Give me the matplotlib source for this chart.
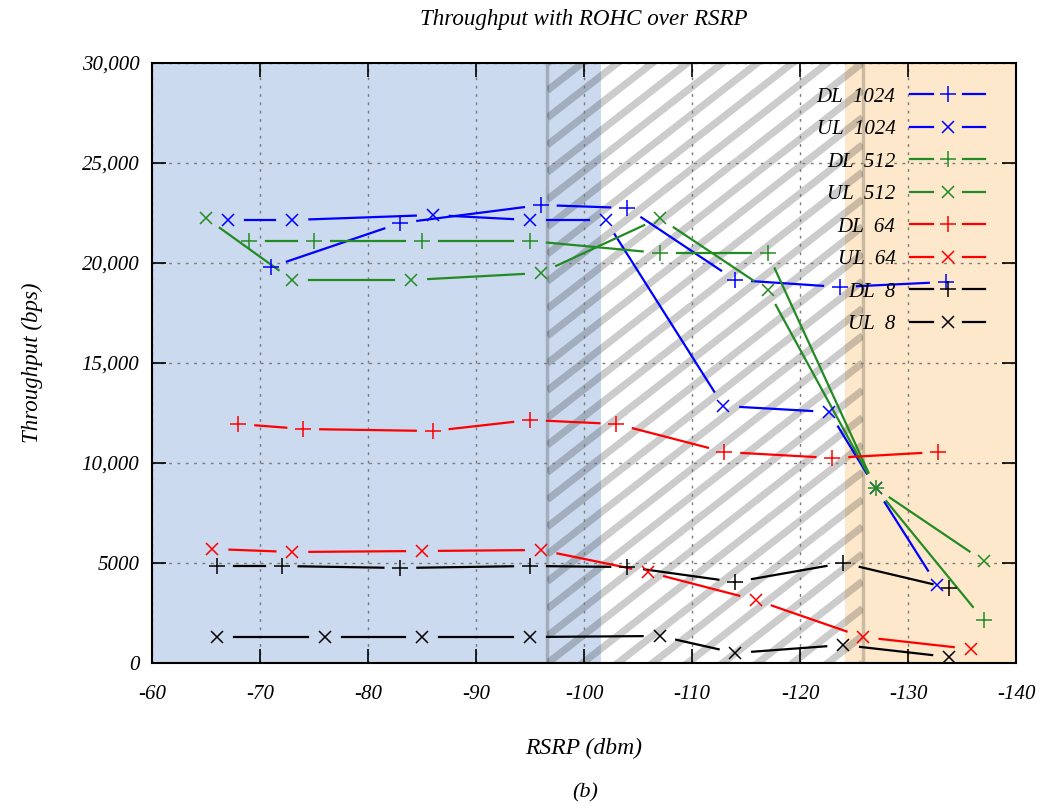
import numpy as np
import matplotlib
matplotlib.use("Agg")
import matplotlib.pyplot as plt
from matplotlib.lines import Line2D
from matplotlib.patches import Rectangle
from matplotlib.legend_handler import HandlerLine2D

# ---- data (RSRP in dBm, throughput in bps) ----
dl1024_x = [-71, -83, -96, -104, -114, -123.7, -133.5]
dl1024_y = [19800, 22000, 22900, 22750, 19150, 18800, 19050]

ul1024_x = [-67, -73, -86, -95, -102, -112.9, -122.7, -127, -132.7]
ul1024_y = [22150, 22150, 22400, 22150, 22150, 12850, 12550, 8750, 3900]

dl512_x = [-69, -75, -85, -95, -107, -117, -127, -137]
dl512_y = [21100, 21100, 21100, 21100, 20500, 20500, 8750, 2150]

ul512_x = [-65, -73, -84, -96, -107, -117, -127, -137]
ul512_y = [22250, 19150, 19150, 19500, 22250, 18650, 8750, 5100]

dl64_x = [-68, -74, -86, -95, -103, -113, -123, -132.8]
dl64_y = [11950, 11700, 11600, 12150, 11950, 10550, 10250, 10550]

ul64_x = [-65.6, -73, -85, -96, -105.9, -115.9, -125.8, -135.8]
ul64_y = [5700, 5550, 5600, 5650, 4550, 3150, 1300, 700]

dl8_x = [-66, -72, -83, -95, -104, -114, -124, -133.8]
dl8_y = [4850, 4850, 4750, 4850, 4800, 4050, 5000, 3750]

ul8_x = [-66, -76, -85, -95, -107, -114, -124, -133.8]
ul8_y = [1300, 1300, 1300, 1300, 1350, 500, 900, 300]

x_ticks = [-60, -70, -80, -90, -100, -110, -120, -130, -140]
y_ticks = [0, 5000, 10000, 15000, 20000, 25000, 30000]
y_tick_labels = ["0", "5000", "10,000", "15,000", "20,000", "25,000", "30,000"]

# coverage regions
good_region = (-60, -101.6)
hatch_region = (-96.6, -125.8)
poor_region = (-124.2, -140)

plt.rcParams["font.family"] = ["Liberation Serif", "DejaVu Serif"]
plt.rcParams["font.style"] = "italic"
plt.rcParams["font.size"] = 15

fig = plt.figure(figsize=(10.42, 8.11), dpi=100)
ax = fig.add_axes([152 / 1042, 1 - 663 / 811, 864 / 1042, 600 / 811])
ax.set_xlim(-60, -140)
ax.set_ylim(0, 30000)

# background regions
ax.axvspan(*good_region, color="#cbdaee", lw=0, zorder=0.1)
ax.axvspan(*poor_region, color="#fde8cc", lw=0, zorder=0.1)

# hatched band: diagonal translucent stripes clipped to the band
clip = Rectangle((hatch_region[0], 0), hatch_region[1] - hatch_region[0], 30000,
                 transform=ax.transData, fill=False, ec="none")
ax.add_patch(clip)
k = 421.0          # bps per dBm (stripe slope)
step = 1364.0      # vertical spacing between stripes
width_db = hatch_region[0] - hatch_region[1]
for c in np.arange(-k * width_db - step, 30000 + step, step):
    xs = np.array([hatch_region[0], hatch_region[1]])
    ys = c + k * (hatch_region[0] - xs)
    ln, = ax.plot(xs, ys, color="black", alpha=0.2, lw=5.2,
                  solid_capstyle="butt", zorder=0.2)
    ln.set_clip_path(clip)
for edge in hatch_region:
    ax.axvline(edge, color="black", alpha=0.2, lw=2.5, zorder=0.2)

marker_sizes = {"+": 11, "x": 8.5}


def draw_gapped(xs, ys, color, marker, gap=17):
    pts = ax.transData.transform(np.column_stack([xs, ys]))
    inv = ax.transData.inverted()
    for p, q in zip(pts[:-1], pts[1:]):
        d = q - p
        dist = np.hypot(*d)
        if dist <= 2 * gap:
            continue
        u = d / dist
        seg = inv.transform(np.array([p + u * gap, q - u * gap]))
        ax.plot(seg[:, 0], seg[:, 1], color=color, lw=1.6, zorder=2)
    ms = marker_sizes[marker]
    ax.plot(xs, ys, ls="none", marker=marker, color=color, ms=ms, mew=1.1, zorder=3)
    return Line2D([], [], color=color, lw=1.6, marker=marker, ms=ms, mew=1.1)


series = [
    ("DL 1024", dl1024_x, dl1024_y, "#0000ff", "+"),
    ("UL 1024", ul1024_x, ul1024_y, "#0000ff", "x"),
    ("DL 512", dl512_x, dl512_y, "#238b23", "+"),
    ("UL 512", ul512_x, ul512_y, "#238b23", "x"),
    ("DL 64", dl64_x, dl64_y, "#ff0000", "+"),
    ("UL 64", ul64_x, ul64_y, "#ff0000", "x"),
    ("DL 8", dl8_x, dl8_y, "#000000", "+"),
    ("UL 8", ul8_x, ul8_y, "#000000", "x"),
]
handles = []
labels = []
for name, xs, ys, col, mk in series:
    handles.append(draw_gapped(xs, ys, col, mk))
    labels.append(name.replace(" ", "  "))


class GapHandler(HandlerLine2D):
    def create_artists(self, legend, orig_handle, xdescent, ydescent,
                       width, height, fontsize, trans):
        y = height / 2 - ydescent
        x0 = -xdescent
        seg = 0.3 * width
        a = Line2D([x0, x0 + seg], [y, y])
        b = Line2D([x0 + width - seg, x0 + width], [y, y])
        m = Line2D([x0 + width / 2], [y])
        for ln in (a, b, m):
            self.update_prop(ln, orig_handle, legend)
            ln.set_transform(trans)
        a.set_marker("None")
        b.set_marker("None")
        m.set_linestyle("None")
        return [a, b, m]


ax.legend(handles, labels, handler_map={Line2D: GapHandler()},
          loc="upper right", bbox_to_anchor=(985 / 1042, 1 - 87 / 811),
          bbox_transform=fig.transFigure, frameon=False, markerfirst=False,
          borderpad=0, borderaxespad=0, handlelength=3.6, handletextpad=0.7,
          labelspacing=0.62, fontsize=15)

ax.set_xticks(x_ticks)
ax.set_xticklabels([str(v) for v in x_ticks])
ax.set_yticks(y_ticks)
ax.set_yticklabels(y_tick_labels)
ax.tick_params(direction="in", length=10, width=1.2, top=True, right=True)
ax.tick_params(axis="x", pad=16)
ax.tick_params(axis="y", pad=9)
ax.set_axisbelow(True)
ax.grid(True, color="#7a7a7a", lw=1, linestyle=(0, (2, 4)))
for s in ax.spines.values():
    s.set_linewidth(1.5)
    s.set_zorder(5)

ax.set_title("Throughput with ROHC over RSRP", fontsize=16.6, pad=27)
ax.set_xlabel("RSRP (dbm)", fontsize=17, labelpad=24)
ax.set_ylabel("Throughput (bps)", fontsize=16.5, labelpad=28)
fig.text(585 / 1042, 1 - 793 / 811, "(b)", ha="center", va="center", fontsize=16)

fig.savefig("out.png", dpi=100)
